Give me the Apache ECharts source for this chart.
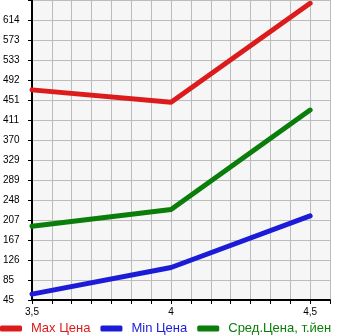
<!DOCTYPE html>
<html><head><meta charset="utf-8">
<script src="https://cdn.jsdelivr.net/npm/echarts@6/dist/echarts.min.js"></script>
<style>html,body{margin:0;padding:0;background:#fff}#c{width:345px;height:335px}</style>
</head><body><div id="c"></div>
<script>
var xValues = [3.5, 4, 4.5];
var maxPrice = [472, 447, 648];
var minPrice = [57, 111, 216];
var avgPrice = [195, 229, 431];
var seriesNames = ['Max Цена', 'Min Цена', 'Сред.Цена, т.йен'];
var yTickLabels = [45, 85, 126, 167, 207, 248, 289, 329, 370, 411, 451, 492, 533, 573, 614];
var xTickValues = [3.5, 4, 4.5];
var xTickLabels = ['3,5', '4', '4,5'];

var colors = ['#dc1c1c', '#1c1cd8', '#0a7d0a'];
var yMin = 45, yStep = (614 - 45) / 14, yMax = yMin + yStep * 15;
var xStep = 1 / 14, xMin = 3.5, xMax = 3.5 + 15 / 14;

function pairs(arr) { return arr.map(function (v, i) { return [xValues[i], v]; }); }

var chart = echarts.init(document.getElementById('c'), null, {renderer: 'canvas'});
chart.setOption({
  animation: false,
  grid: {left: 30, right: 15, top: 0, bottom: 35, show: true, backgroundColor: '#f6f6f6', borderWidth: 0},
  xAxis: {
    type: 'value', min: xMin, max: xMax, interval: xStep,
    axisLine: {show: true, onZero: false, lineStyle: {color: '#000', width: 2}},
    axisTick: {show: true, length: 4, lineStyle: {color: '#000'}},
    splitLine: {show: true, lineStyle: {color: '#bcbcbc', width: 1}},
    axisLabel: {
      margin: 7, fontSize: 10, fontFamily: 'Liberation Sans', color: '#000',
      showMaxLabel: false,
      formatter: function (v) {
        for (var i = 0; i < xTickValues.length; i++) {
          if (Math.abs(v - xTickValues[i]) < 1e-6) return xTickLabels[i];
        }
        return '';
      }
    }
  },
  yAxis: {
    type: 'value', min: yMin, max: yMax, interval: yStep,
    axisLine: {show: true, lineStyle: {color: '#000', width: 2}},
    axisTick: {show: true, length: 4, lineStyle: {color: '#000'}},
    splitLine: {show: true, lineStyle: {color: '#bcbcbc', width: 1}},
    axisLabel: {
      align: 'left', margin: 29, fontSize: 10, fontFamily: 'Liberation Sans', color: '#000',
      verticalAlign: 'middle', padding: [0, 0, 8, 0],
      showMaxLabel: false,
      formatter: function (v) {
        var idx = Math.round((v - yMin) / yStep);
        return idx < yTickLabels.length ? String(yTickLabels[idx]) : '';
      }
    }
  },
  legend: {
    left: 0, top: 322, padding: 0, itemGap: 10,
    itemWidth: 22, itemHeight: 6,
    icon: 'roundRect',
    textStyle: {fontSize: 13, fontFamily: 'Liberation Sans', padding: [0, 0, 0, 4]},
    data: seriesNames.map(function (n, i) { return {name: n, textStyle: {color: colors[i]}}; })
  },
  series: [maxPrice, minPrice, avgPrice].map(function (d, i) {
    return {
      name: seriesNames[i], type: 'line', data: pairs(d), showSymbol: false, symbol: 'none',
      color: colors[i],
      lineStyle: {width: 5, color: colors[i], cap: 'round', join: 'round'}
    };
  })
});
</script></body></html>
